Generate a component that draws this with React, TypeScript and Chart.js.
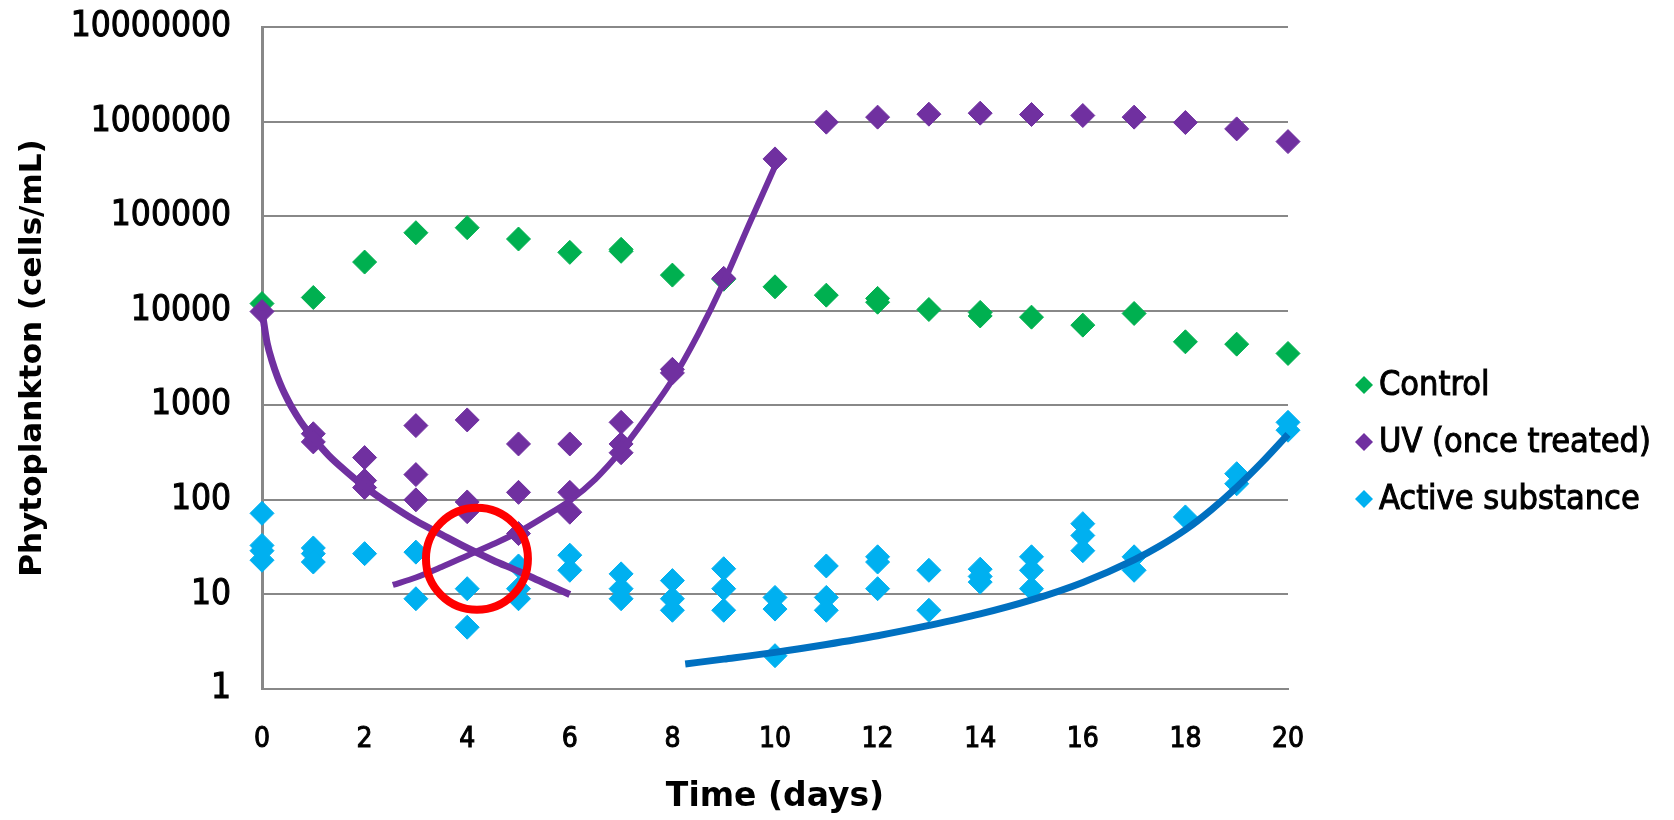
import React, { useEffect, useRef } from 'react';
import { Chart, registerables } from 'chart.js';

Chart.register(...registerables);

// ---- data ----
const controlDays = [0, 1, 2, 3, 4, 5, 6, 7, 7, 8, 9, 10, 11, 12, 12, 13, 14, 14, 15, 16, 17, 18, 19, 20];
const controlValues = [11900, 13800, 32700, 66800, 75500, 57300, 41400, 44600, 42500, 23800, 21500, 17900, 14600, 13500, 12300, 10300, 9600, 8800, 8550, 7040, 9350, 4690, 4430, 3530];

const uvDays = [0, 1, 1, 2, 2, 2, 3, 3, 3, 4, 4, 4, 5, 5, 5, 6, 6, 6, 7, 7, 7, 8, 8, 9, 10, 11, 12, 13, 14, 15, 16, 17, 18, 19, 20];
const uvValues = [9800, 500, 410, 280, 160, 135, 610, 185, 100, 700, 95, 75, 390, 120, 44, 390, 120, 74, 660, 390, 315, 2400, 2200, 22000, 403000, 986000, 1114000, 1197000, 1227000, 1188000, 1159000, 1114000, 977000, 837000, 614000];

const activeDays = [0, 0, 0, 0, 1, 1, 1, 2, 3, 3, 4, 4, 5, 5, 5, 6, 6, 7, 7, 7, 8, 8, 8, 9, 9, 9, 10, 10, 10, 11, 11, 11, 12, 12, 12, 13, 13, 14, 14, 14, 15, 15, 15, 16, 16, 16, 17, 17, 18, 19, 19, 20, 20];
const activeValues = [72, 33, 29, 23, 31, 27, 22, 27, 28, 9, 11.5, 4.5, 20, 11.5, 9, 26, 18, 16.5, 11.5, 9, 14, 9, 6.8, 18.7, 11.5, 6.8, 9.3, 7, 2.25, 20, 9.3, 6.8, 25, 22, 11.5, 18, 6.8, 18.5, 15.5, 13.5, 25, 18, 11.5, 56, 42, 29, 25, 18, 66, 189, 148, 660, 545];

// hand-drawn trend curves
const uvDecayDays = [0, 0.05, 0.1, 0.2, 0.3, 0.4, 0.5, 0.6, 0.75, 0.9, 1.1, 1.3, 1.6, 2, 2.5, 3, 3.5, 4, 4.5, 5, 5.5, 6];
const uvDecayValues = [10000, 6600, 4570, 2880, 2000, 1480, 1150, 912, 676, 525, 389, 295, 209, 138, 89, 60, 43, 31, 23, 17.6, 13.2, 10];

const uvGrowthDays = [2.55, 3, 3.5, 4, 4.5, 5, 5.5, 6, 6.5, 7, 7.5, 8, 8.5, 9, 9.5, 10.02];
const uvGrowthValues = [12.6, 15.1, 19.5, 25.7, 33.9, 45.7, 66, 98, 166, 331, 759, 1862, 5623, 19950, 83180, 354800];

const activeTrendDays = [8.25, 9, 10, 11, 12, 13, 14, 15, 16, 17, 17.5, 18, 18.5, 19, 19.5, 20];
const activeTrendValues = [1.84, 2.07, 2.44, 2.96, 3.66, 4.7, 6.22, 8.75, 13.4, 23.2, 32.5, 48.3, 78.2, 136, 252, 493];

// red circle highlight
const circleDay = [4.19];
const circleValue = [23.8];

const yTicks = [1, 10, 100, 1000, 10000, 100000, 1000000, 10000000];
const seriesNames = ['Control', 'UV (once treated)', 'Active substance'];
const seriesColors = ['#00B050', '#7030A0', '#00B0F0'];

const xTitle = 'Time (days)';
const yTitle = 'Phytoplankton (cells/mL)';

const FONT = "'DejaVu Sans Condensed', 'DejaVu Sans', sans-serif";
const TITLE_FONT = "'DejaVu Sans', sans-serif";

const pts = (xs: number[], ys: number[]) => xs.map((x, i) => ({ x, y: ys[i] }));

const legendPlugin = {
  id: 'sideLegend',
  afterDraw(chart: any) {
    const ctx = chart.ctx as CanvasRenderingContext2D;
    ctx.save();
    ctx.font = `34px ${FONT}`;
    ctx.textBaseline = 'middle';
    ctx.textAlign = 'left';
    ctx.lineWidth = 1;
    ctx.strokeStyle = '#000';
    const mx = 1364;
    const tx = 1379;
    const rows = [385, 442, 499];
    seriesNames.forEach((name, i) => {
      const y = rows[i];
      const r = 9;
      ctx.beginPath();
      ctx.moveTo(mx - r, y);
      ctx.lineTo(mx, y - r);
      ctx.lineTo(mx + r, y);
      ctx.lineTo(mx, y + r);
      ctx.closePath();
      ctx.fillStyle = seriesColors[i];
      ctx.fill();
      ctx.fillStyle = '#000';
      ctx.strokeText(name, tx, y + 1);
      ctx.fillText(name, tx, y + 1);
    });
    ctx.restore();
  },
};

export default function App() {
  const ref = useRef<HTMLCanvasElement | null>(null);

  useEffect(() => {
    document.body.style.margin = '0';
    document.body.style.overflow = 'hidden';
    const canvas = ref.current;
    if (!canvas) return;

    const scatterCommon = {
      type: 'scatter' as const,
      pointStyle: 'rectRot',
      pointRadius: 12,
      pointBorderWidth: 1,
      showLine: false,
      clip: false as any,
    };
    const lineCommon = {
      type: 'line' as const,
      pointRadius: 0,
      fill: false,
      cubicInterpolationMode: 'monotone' as const,
      clip: false as any,
    };

    const chart = new Chart(canvas, {
      type: 'scatter',
      data: {
        datasets: [
          {
            type: 'scatter',
            label: 'highlight',
            data: pts(circleDay, circleValue),
            pointStyle: 'circle',
            pointRadius: 51,
            pointBorderWidth: 8,
            pointBorderColor: '#FF0000',
            pointBackgroundColor: 'rgba(0,0,0,0)',
            borderColor: '#FF0000',
            backgroundColor: 'rgba(0,0,0,0)',
            order: 0,
            clip: false as any,
          },
          {
            ...lineCommon,
            label: 'UV decay',
            data: pts(uvDecayDays, uvDecayValues),
            borderColor: '#7030A0',
            borderWidth: 7,
            order: 1,
          },
          {
            ...lineCommon,
            label: 'UV growth',
            data: pts(uvGrowthDays, uvGrowthValues),
            borderColor: '#7030A0',
            borderWidth: 6,
            order: 2,
          },
          {
            ...lineCommon,
            label: 'Active trend',
            data: pts(activeTrendDays, activeTrendValues),
            borderColor: '#0070C0',
            borderWidth: 7,
            order: 3,
          },
          {
            ...scatterCommon,
            label: seriesNames[2],
            data: pts(activeDays, activeValues),
            backgroundColor: seriesColors[2],
            borderColor: seriesColors[2],
            order: 4,
          },
          {
            ...scatterCommon,
            label: seriesNames[1],
            data: pts(uvDays, uvValues),
            backgroundColor: seriesColors[1],
            borderColor: seriesColors[1],
            order: 5,
          },
          {
            ...scatterCommon,
            label: seriesNames[0],
            data: pts(controlDays, controlValues),
            backgroundColor: seriesColors[0],
            borderColor: seriesColors[0],
            order: 6,
          },
        ] as any,
      },
      options: {
        responsive: false,
        animation: false,
        devicePixelRatio: 1,
        layout: { autoPadding: false, padding: { left: 0, right: 1674 - 1288, top: 27, bottom: 0 } },
        plugins: {
          legend: { display: false },
          tooltip: { enabled: false },
        },
        scales: {
          x: {
            type: 'linear',
            min: 0,
            max: 20,
            ticks: {
              stepSize: 2,
              padding: 34,
              color: '#000',
              textStrokeColor: '#000',
              textStrokeWidth: 1,
              font: { family: FONT, size: 28 },
            },
            grid: { display: false, drawTicks: false },
            border: { display: true, color: '#888888', width: 2 },
            title: {
              display: true,
              text: xTitle,
              color: '#000',
              font: { family: TITLE_FONT, size: 33, weight: 'bold' },
              padding: { top: 0, bottom: 3 },
            },
            afterFit: (s: any) => {
              s.height = 131;
              s.paddingLeft = 0;
              s.paddingRight = 0;
            },
          },
          y: {
            type: 'logarithmic',
            min: 1,
            max: 10000000,
            afterBuildTicks: (s: any) => {
              s.ticks = yTicks.map((v) => ({ value: v }));
            },
            ticks: {
              padding: 31,
              color: '#000',
              textStrokeColor: '#000',
              textStrokeWidth: 1,
              font: { family: FONT, size: 35 },
              callback: (v: any) => String(v),
            },
            grid: { color: '#888888', lineWidth: 2, drawTicks: false },
            border: { display: true, color: '#888888', width: 3 },
            title: {
              display: true,
              text: yTitle,
              color: '#000',
              font: { family: TITLE_FONT, size: 31, weight: 'bold' },
              padding: { top: 14, bottom: 0 },
            },
            afterFit: (s: any) => {
              s.width = 262;
              s.paddingTop = 0;
              s.paddingBottom = 0;
            },
          },
        },
      } as any,
      plugins: [legendPlugin],
    });

    return () => {
      chart.destroy();
    };
  }, []);

  return (
    <div style={{ width: 1674, height: 820, background: '#fff' }}>
      <canvas ref={ref} width={1674} height={820} style={{ display: 'block', width: 1674, height: 820 }} />
    </div>
  );
}
